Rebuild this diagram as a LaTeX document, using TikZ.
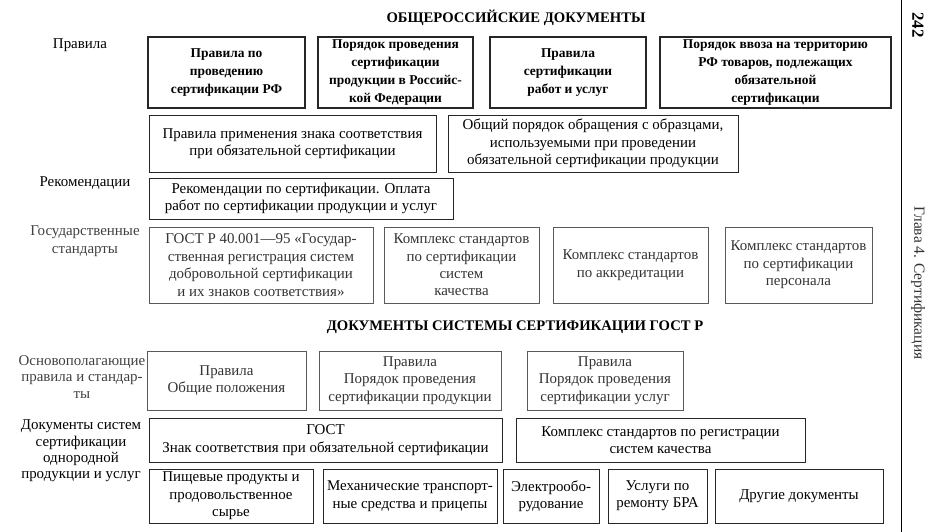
\documentclass[tikz,border=0pt]{standalone}
\usepackage{fontspec}
\setmainfont{Liberation Serif}
\usetikzlibrary{positioning}
\tikzset{
  basebox/.style={rectangle,draw=black!85,align=center,inner sep=1pt,
                  font=\fontsize{15}{17.5}\selectfont},
  topbox/.style={basebox,line width=1.1pt,font=\fontsize{13.5}{18}\selectfont\bfseries},
  docbox/.style={basebox,line width=0.8pt},
  palebox/.style={basebox,line width=0.6pt,draw=black!65,text=black!80},
  sidelbl/.style={align=center,font=\fontsize{15}{16.5}\selectfont},
  palelbl/.style={sidelbl,text=black!75},
  headline/.style={font=\fontsize{14.7}{16}\selectfont\bfseries}
}
\begin{document}
\begin{tikzpicture}[x=1bp,y=-1bp]
  \useasboundingbox (0,0) rectangle (940,532);

  % page margin
  \coordinate (rtop) at (901,0);
  \coordinate (rbot) at (901,532);
  \draw[line width=0.8pt] (rtop) -- (rbot);
  \node[font=\fontsize{17}{18}\selectfont\bfseries,rotate=-90] (pg) at (918,25) {242};
  \node[font=\fontsize{15.5}{17}\selectfont,rotate=-90,text=black!80] (chap) at (918,283)
      {Глава 4. Сертификация};

  % общероссийские документы
  \node[headline] (head1) at (516,18) {ОБЩЕРОССИЙСКИЕ ДОКУМЕНТЫ};

  \node[sidelbl] (lRules) at (80,45) {Правила};
  \node[topbox,minimum width=157bp,minimum height=71bp] (r1a) at (226.5,72.5)
      {Правила по\\проведению\\сертификации РФ};
  \node[topbox,minimum width=155bp,minimum height=71bp] (r1b) at (395.5,72.5)
      {Порядок проведения\\сертификации\\продукции в Российс-\\кой Федерации};
  \node[topbox,minimum width=156bp,minimum height=71bp] (r1c) at (568,72.5)
      {Правила\\сертификации\\работ и услуг};
  \node[topbox,minimum width=231bp,minimum height=71bp] (r1d) at (775.5,72.5)
      {Порядок ввоза на территорию\\РФ товаров, подлежащих\\обязательной\\сертификации};

  \node[docbox,minimum width=287bp,minimum height=57bp] (r2a) at (292.5,143.5)
      {Правила применения знака соответствия\\при обязательной сертификации};
  \node[docbox,minimum width=290bp,minimum height=57bp] (r2b) at (593,143.5)
      {Общий порядок обращения с образцами,\\используемыми при проведении\\обязательной сертификации продукции};

  \node[sidelbl] (lRec) at (85,183) {Рекомендации};
  \node[docbox,minimum width=304bp,minimum height=41bp] (r3a) at (301,198.5)
      {Рекомендации по сертификации. Оплата\\работ по сертификации продукции и услуг};

  \node[palelbl,font=\fontsize{15}{18}\selectfont] (lGost) at (85,241)
      {Государственные\\стандарты};
  \node[palebox,minimum width=224bp,minimum height=76bp] (r4a) at (261,265)
      {ГОСТ Р 40.001---95 «Государ-\\ственная регистрация систем\\добровольной сертификации\\и их знаков соответствия»};
  \node[palebox,minimum width=155bp,minimum height=76bp] (r4b) at (461.5,265)
      {Комплекс стандартов\\по сертификации\\систем\\качества};
  \node[palebox,minimum width=155bp,minimum height=76bp] (r4c) at (630.5,265)
      {Комплекс стандартов\\по аккредитации};
  \node[palebox,minimum width=147bp,minimum height=76bp] (r4d) at (798.5,265)
      {Комплекс стандартов\\по сертификации\\персонала};

  % документы системы ГОСТ Р
  \node[headline] (head2) at (515,327) {ДОКУМЕНТЫ СИСТЕМЫ СЕРТИФИКАЦИИ ГОСТ Р};

  \node[palelbl] (lBase) at (82,377) {Основополагающие\\правила и стандар-\\ты};
  \node[palebox,minimum width=159bp,minimum height=59bp] (r5a) at (226.5,380.5)
      {Правила\\Общие положения};
  \node[palebox,minimum width=182bp,minimum height=59bp] (r5b) at (410,380.5)
      {Правила\\Порядок проведения\\сертификации продукции};
  \node[palebox,minimum width=156bp,minimum height=59bp] (r5c) at (605,380.5)
      {Правила\\Порядок проведения\\сертификации услуг};

  \node[sidelbl] (lSys) at (81,451)
      {Документы систем\\сертификации\\однородной\\продукции и услуг};
  \node[docbox,minimum width=353bp,minimum height=44bp] (r6a) at (325.5,440)
      {ГОСТ\\Знак соответствия при обязательной сертификации};
  \node[docbox,minimum width=289bp,minimum height=44bp] (r6b) at (660.5,440)
      {Комплекс стандартов по регистрации\\систем качества};

  \node[docbox,minimum width=164bp,minimum height=54bp] (r7a) at (231,496)
      {Пищевые продукты и\\продовольственное\\сырье};
  \node[docbox,minimum width=174bp,minimum height=54bp] (r7b) at (410,496)
      {Механические транспорт-\\ные средства и прицепы};
  \node[docbox,minimum width=96bp,minimum height=54bp] (r7c) at (551,496)
      {Электрообо-\\рудование};
  \node[docbox,minimum width=99bp,minimum height=54bp] (r7d) at (657.5,496)
      {Услуги по\\ремонту БРА};
  \node[docbox,minimum width=168bp,minimum height=54bp] (r7e) at (799,496)
      {Другие документы};
\end{tikzpicture}
\end{document}
